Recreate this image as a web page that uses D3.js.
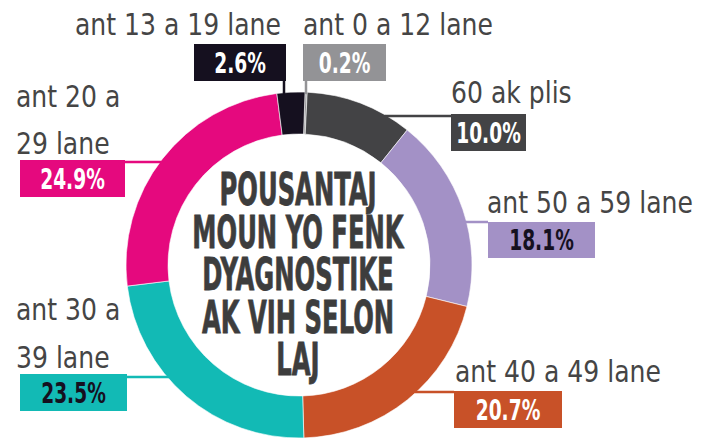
<!DOCTYPE html>
<html>
<head>
<meta charset="utf-8">
<script src="https://cdn.jsdelivr.net/npm/d3@7"></script>
<style>
  body { margin: 0; background: #fff; }
  text { font-family: "Liberation Sans Narrow", "DejaVu Sans Condensed", Roboto, sans-serif; }
</style>
</head>
<body>
<script>
(function() {

    var width = 716;
    var height = 440;

    // data, clockwise from the top
    const ageGroups = ["ant 0 a 12 lane", "60 ak plis", "ant 50 a 59 lane", "ant 40 a 49 lane", "ant 30 a 39 lane", "ant 20 a 29 lane", "ant 13 a 19 lane"];
    const shares = [0.2, 10.0, 18.1, 20.7, 23.5, 24.9, 2.6];
    const sliceColors = ["#939396", "#434345", "#a391c6", "#c85128", "#12bab5", "#e5097e", "#15101f"];
    const valueColors = ["#fff", "#fff", "#15101f", "#fff", "#15101f", "#fff", "#fff"];
    const titleLines = ["POUSANTAJ", "MOUN YO FENK", "DYAGNOSTIKE", "AK VIH SELON", "LAJ"];

    // where each label sits (name lines, box, leader direction)
    const labelLayout = [
        { lines: ["ant 0 a 12 lane"], tx: 303, ty: [35], box: [303, 44, 83, 37], lead: "v", lx: 306 },
        { lines: ["60 ak plis"], tx: 451, ty: [103], box: [451, 114, 75, 37], lead: "h", ly: 116 },
        { lines: ["ant 50 a 59 lane"], tx: 487, ty: [213], box: [488, 222, 107, 36], lead: "h", ly: 222 },
        { lines: ["ant 40 a 49 lane"], tx: 455, ty: [382], box: [454, 391, 108, 37], lead: "h", ly: 392 },
        { lines: ["ant 30 a", "39 lane"], tx: 16, ty: [320, 368], box: [20, 374, 107, 37], lead: "h", ly: 377 },
        { lines: ["ant 20 a", "29 lane"], tx: 16, ty: [107, 154], box: [20, 160, 105, 37], lead: "h", ly: 162 },
        { lines: ["ant 13 a 19 lane"], tx: 75, ty: [35], box: [194, 44, 92, 37], lead: "v", lx: 284 }
    ];

    const cx = 299, cy = 265;
    const outerR = 173, innerR = 131;

    const svg = d3.select("body")
      .append("svg")
      .attr("width", width)
      .attr("height", height);

    // squeezed text, the fonts here are wider than the original condensed face
    function addText(x, y, str, size, squeeze, opts) {
        return svg.append("text")
            .attr("transform", "translate(" + x + "," + y + ") scale(" + squeeze + ",1)")
            .attr("text-anchor", opts.anchor || "start")
            .attr("font-size", size)
            .attr("font-weight", opts.weight || "normal")
            .attr("fill", opts.fill)
            .text(str);
    }

    const pie = d3.pie()
        .value(d => d)
        .sort(null)
        .startAngle(2 * Math.PI / 180)
        .endAngle(2 * Math.PI + 2 * Math.PI / 180);

    const arc = d3.arc()
        .innerRadius(innerR)
        .outerRadius(outerR);

    const g = svg.append("g")
        .attr("transform", "translate(" + cx + "," + cy + ")");

    g.selectAll("path")
        .data(pie(shares))
        .enter()
        .append("path")
        .attr("d", arc)
        .attr("fill", (d, i) => sliceColors[i])
        .attr("stroke", "#fff")
        .attr("stroke-width", 0.6);

    // leader lines
    labelLayout.forEach(function(L, i) {
        var x1, y1, x2, y2;
        if (L.lead === "v") {
            x1 = x2 = L.lx;
            y1 = L.box[1] + L.box[3];
            y2 = cy - Math.sqrt(outerR * outerR - (L.lx - cx) * (L.lx - cx)) + 2;
        } else {
            y1 = y2 = L.ly;
            var dx = Math.sqrt(outerR * outerR - (L.ly - cy) * (L.ly - cy));
            var left = L.box[0] < cx;
            x1 = left ? L.box[0] + L.box[2] : L.box[0];
            x2 = left ? cx - dx + 2 : cx + dx - 2;
        }
        svg.append("line")
            .attr("x1", x1).attr("y1", y1)
            .attr("x2", x2).attr("y2", y2)
            .attr("stroke", sliceColors[i])
            .attr("stroke-width", 2.5);
    });

    // names
    labelLayout.forEach(function(L, i) {
        L.lines.forEach(function(line, k) {
            addText(L.tx, L.ty[k], line, 30, 0.93, { fill: "#454545" });
        });
    });

    // value boxes
    labelLayout.forEach(function(L, i) {
        svg.append("rect")
            .attr("x", L.box[0]).attr("y", L.box[1])
            .attr("width", L.box[2]).attr("height", L.box[3])
            .attr("fill", sliceColors[i]);
        addText(L.box[0] + L.box[2] / 2, L.box[1] + L.box[3] / 2 + 10,
            shares[i].toFixed(1) + "%", 28, 0.74,
            { anchor: "middle", weight: "bold", fill: valueColors[i] });
    });

    // centre title, a touch of stroke to make it as heavy as the original
    titleLines.forEach(function(line, i) {
        addText(cx - 1, 205 + i * 42.5, line, 45, 0.6,
            { anchor: "middle", weight: "bold", fill: "#3d3d3d" })
            .attr("stroke", "#3d3d3d")
            .attr("stroke-width", 0.8);
    });

})();
</script>
</body>
</html>
